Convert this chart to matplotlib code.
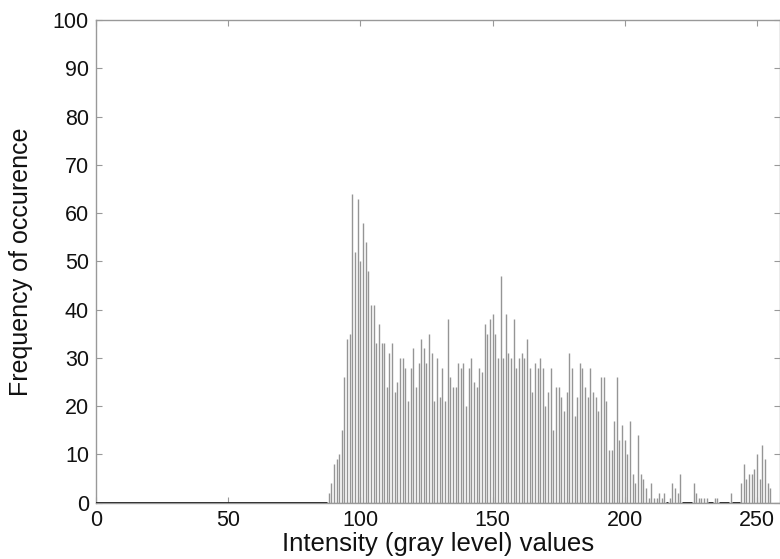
import numpy as np
import matplotlib
matplotlib.use("Agg")
import matplotlib.pyplot as plt

# Gray levels 0..255 and their counts
levels = np.arange(256)
counts_low = [0] * 88  # levels 0..87
counts_88_143 = [2, 4, 8, 9, 10, 15, 26, 34, 35, 64, 52, 63, 50, 58, 54, 48,
                 41, 41, 33, 37, 33, 33, 24, 31, 33, 23, 25, 30, 30, 28, 21, 28,
                 32, 24, 29, 34, 32, 29, 35, 31, 21, 30, 22, 28, 21, 38, 26, 24,
                 24, 29, 28, 29, 20, 28, 30, 25]
counts_144_199 = [24, 28, 27, 37, 35, 38, 39, 35, 30, 47, 30, 39, 31, 30, 38, 28,
                  30, 31, 30, 34, 28, 23, 29, 28, 30, 28, 20, 23, 28, 15, 24, 24,
                  22, 19, 23, 31, 28, 18, 22, 29, 28, 24, 22, 28, 23, 22, 19, 26,
                  26, 21, 11, 11, 17, 26, 13, 16]
counts_200_255 = [13, 10, 17, 6, 4, 14, 6, 5, 3, 1, 4, 1, 1, 2, 1, 2,
                  0, 1, 4, 3, 2, 6, 0, 0, 0, 0, 4, 2, 1, 1, 1, 1,
                  0, 0, 1, 1, 0, 0, 0, 0, 2, 0, 0, 0, 4, 8, 5, 6,
                  6, 7, 10, 5, 12, 9, 4, 3]
counts = np.array(counts_low + counts_88_143 + counts_144_199 + counts_200_255)

xticks = [0, 50, 100, 150, 200, 250]
yticks = list(range(0, 101, 10))
xlabel = "Intensity (gray level) values"
ylabel = "Frequency of occurence"

plt.rcParams['font.family'] = ['Liberation Sans', 'DejaVu Sans']

fig = plt.figure(figsize=(7.8, 5.59), dpi=100)
ax = fig.add_axes([0.123, 0.1007, 0.877, 0.8635])

nz = counts > 0
ax.vlines(levels[nz], 0, counts[nz], color='#959595', linewidth=1.0)

# baseline: light across whole range, dark over empty bins
ax.axhline(0, color='#b8b8b8', linewidth=1.0, zorder=1)
zero_idx = levels[~nz]
runs = np.split(zero_idx, np.where(np.diff(zero_idx) != 1)[0] + 1)
for r in runs:
    if len(r):
        ax.hlines(0, r[0] - 0.5, r[-1] + 0.5, color='#222222', linewidth=2.0, zorder=3)

ax.set_xlim(0, 258.7)
ax.set_ylim(0, 100)
ax.set_xticks(xticks)
ax.set_yticks(yticks)
ax.tick_params(direction='in', length=4, width=0.8, color='#999999',
               labelsize=15.5, labelcolor='#111111', top=True, right=True)
ax.tick_params(axis='x', pad=5)
ax.tick_params(axis='y', pad=5)
for s in ax.spines.values():
    s.set_color('#999999')
    s.set_linewidth(1.0)

ax.set_xlabel(xlabel, fontsize=18.5, color='#111111', labelpad=1)
ax.set_ylabel(ylabel, fontsize=18, color='#111111', labelpad=14)

fig.savefig("out.png", dpi=100)
